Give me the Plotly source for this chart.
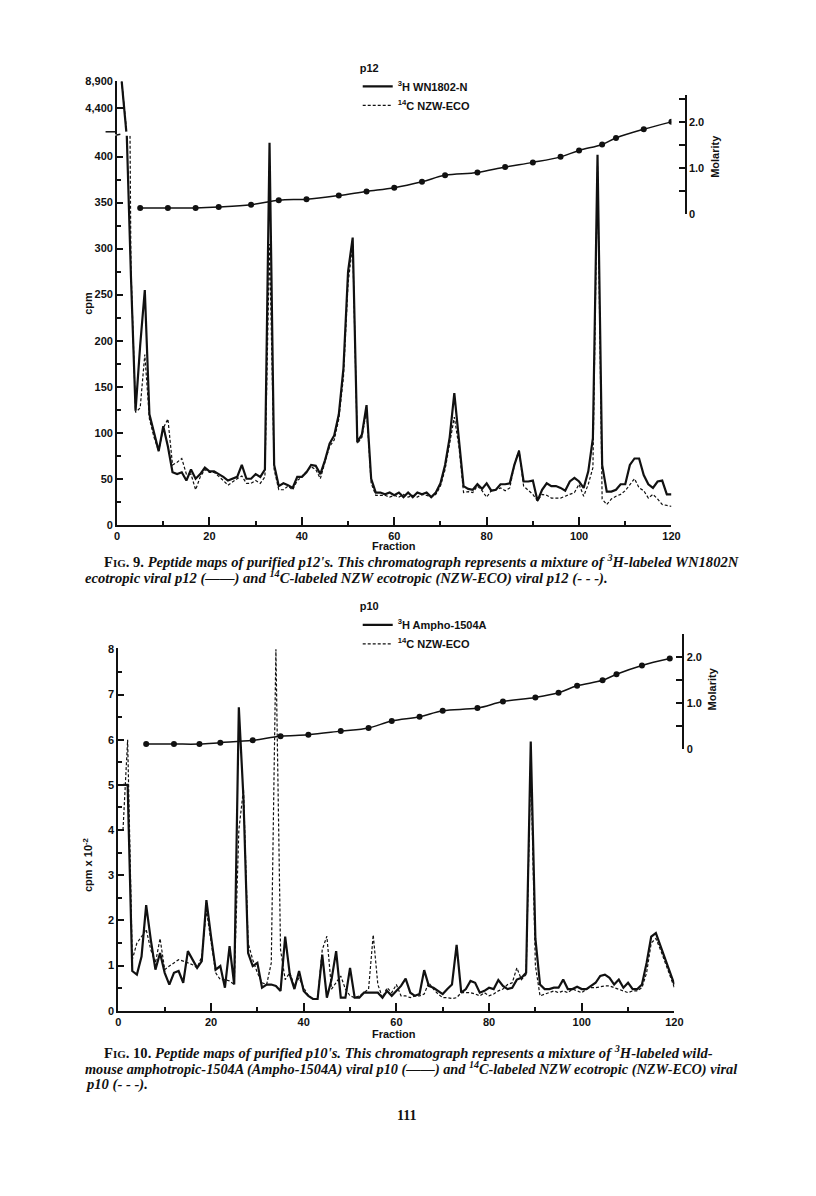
import plotly.graph_objects as go

# page is photographed at 816x1196; the html body has an 8px margin,
# so the figure is 800x1180 and page pixels are converted accordingly
W, H = 800, 1180
OFF = 8


def X(px):
    return (px - OFF) / W


def Y(py):
    return 1 - (py - OFF) / H


# ---------------- data ----------------
fractions = list(range(1, 121))

# Fig. 9  p12   (cpm)
p12_h3 = [8900, 440, 270, 124, 195, 255, 120, 100, 80, 107,
          85, 57, 55, 57, 48, 60, 50, 55, 62, 58,
          58, 55, 52, 48, 50, 52, 65, 50, 50, 55,
          52, 60, 415, 65, 42, 45, 43, 40, 52, 52,
          57, 65, 64, 55, 70, 88, 97, 120, 170, 275,
          312, 90, 98, 130, 50, 35, 35, 33, 35, 32,
          35, 30, 35, 30, 35, 33, 35, 30, 35, 45,
          65, 95, 143, 90, 42, 39, 38, 44, 39, 45,
          37, 38, 44, 44, 45, 65, 80, 47, 47, 48,
          26, 38, 45, 42, 42, 40, 37, 47, 51, 47,
          40, 58, 94, 402, 65, 36, 36, 38, 44, 44,
          65, 72, 72, 54, 44, 40, 47, 48, 33, 33]
p12_c14 = [8900, 1000, 280, 122, 127, 185, 115, 95, 80, 105,
           115, 65, 68, 72, 55, 55, 38, 52, 60, 57,
           57, 53, 48, 43, 47, 50, 53, 45, 45, 48,
           45, 52, 305, 60, 38, 38, 42, 38, 48, 52,
           58, 63, 60, 50, 68, 85, 92, 115, 160, 262,
           305, 88, 95, 125, 45, 32, 32, 32, 30, 32,
           30, 33, 30, 32, 30, 33, 32, 30, 33, 42,
           60, 88, 117, 85, 35, 36, 35, 42, 37, 30,
           37, 38, 40, 37, 40, 65, 81, 42, 38, 33,
           26, 33, 32, 29, 29, 29, 31, 33, 35, 44,
           31, 44, 62, 390, 28, 22, 28, 31, 33, 37,
           44, 50, 40, 37, 29, 33, 28, 22, 21, 20]
p12_mol_fraction = [5, 11, 17, 22, 29, 35, 41, 48, 54, 60, 66,
                    71, 78, 84, 90, 96, 100, 105, 108, 114, 120]
p12_molarity = [0.13, 0.13, 0.13, 0.15, 0.20, 0.30, 0.32, 0.40, 0.49, 0.57, 0.70,
                0.84, 0.90, 1.02, 1.12, 1.24, 1.38, 1.51, 1.65, 1.84, 2.00]

# Fig. 10  p10   (cpm x 10^-2)
p10_h3 = [5.0, 5.0, 0.88, 0.80, 1.2, 2.34, 1.57, 0.91, 1.28, 0.84,
          0.58, 0.84, 0.88, 0.62, 1.32, 1.13, 0.95, 1.1, 2.45, 1.64,
          0.91, 0.99, 0.51, 1.43, 0.58, 6.72, 4.7, 1.28, 0.99, 1.06,
          0.51, 0.58, 0.58, 0.55, 0.44, 1.64, 0.8, 0.48, 0.88, 0.44,
          0.33, 0.26, 0.26, 1.24, 0.29, 0.69, 1.32, 0.29, 0.29, 0.95,
          0.29, 0.29, 0.4, 0.4, 0.4, 0.4, 0.29, 0.44, 0.33, 0.44,
          0.55, 0.71, 0.4, 0.33, 0.37, 0.9, 0.55, 0.51, 0.44, 0.37,
          0.48, 0.58, 1.46, 0.4, 0.48, 0.66, 0.62, 0.4, 0.44, 0.51,
          0.48, 0.68, 0.55, 0.48, 0.51, 0.69, 0.73, 0.84, 5.96, 1.6,
          0.58, 0.48, 0.48, 0.51, 0.51, 0.69, 0.48, 0.48, 0.53, 0.48,
          0.48, 0.55, 0.62, 0.77, 0.8, 0.73, 0.58, 0.69, 0.51, 0.62,
          0.48, 0.48, 0.58, 1.06, 1.64, 1.72, 1.43, 1.13, 0.88, 0.58]
p10_c14 = [4.0, 6.0, 1.13, 1.5, 1.64, 1.8, 1.35, 1.06, 1.6, 0.91,
           0.99, 1.06, 1.13, 1.1, 1.06, 1.02, 0.95, 1.2, 2.23, 1.5,
           0.84, 0.69, 0.69, 0.66, 0.58, 4.0, 4.9, 1.5, 1.13, 0.84,
           0.62, 0.58, 1.06, 8.0, 1.35, 0.69, 0.84, 0.55, 0.73, 0.51,
           0.33, 0.26, 0.26, 1.35, 1.65, 0.48, 0.62, 0.77, 0.48, 0.33,
           0.29, 0.33, 0.4, 0.48, 1.68, 0.58, 0.29, 0.51, 0.4, 0.58,
           0.33, 0.33, 0.29, 0.33, 0.33, 0.37, 0.62, 0.48, 0.37, 0.29,
           0.29, 0.27, 0.29, 0.4, 0.4, 0.4, 0.37, 0.33, 0.4, 0.33,
           0.37, 0.44, 0.48, 0.58, 0.62, 0.95, 0.69, 0.8, 5.5, 1.0,
           0.33, 0.37, 0.4, 0.44, 0.4, 0.44, 0.4, 0.48, 0.44, 0.4,
           0.48, 0.51, 0.51, 0.53, 0.55, 0.55, 0.51, 0.48, 0.44, 0.4,
           0.44, 0.44, 0.51, 0.84, 1.5, 1.6, 1.35, 1.06, 0.77, 0.51]
p10_mol_fraction = [6, 12, 17.5, 22, 29, 35, 41, 48, 54, 59, 65,
                    70, 77.5, 83, 90, 95, 99, 104.5, 107.5, 113, 119]
p10_molarity = [0.11, 0.11, 0.11, 0.14, 0.19, 0.28, 0.31, 0.39, 0.46, 0.61, 0.70,
                0.83, 0.89, 1.03, 1.12, 1.22, 1.37, 1.49, 1.62, 1.81, 1.96]

x_ticks = [0, 20, 40, 60, 80, 100, 120]
p12_upper_ticks = [4400, 8900]
p12_upper_labels = ["4,400", "8,900"]
mol_ticks = [0, 1, 2]
mol_labels = ["0", "1.0", "2.0"]
N_BREAK = 2  # points of the off-scale start shown on the upper (broken) axis

# ---------------- styling ----------------
SANS = "Liberation Sans Narrow, Liberation Sans, sans-serif"
SERIF = "Liberation Serif, DejaVu Serif, serif"
BLACK = "#111111"
tickfont = dict(family=SANS, size=11, color=BLACK, weight="bold")

solid = dict(color=BLACK, width=2.2)
dashed = dict(color=BLACK, width=1.2, dash="3px,2px")

fig = go.Figure()

# Fig 9 lower
fig.add_trace(go.Scatter(x=fractions, y=p12_h3, mode="lines", line=solid,
                         name="<sup>3</sup>H WN1802-N", xaxis="x", yaxis="y", legend="legend"))
fig.add_trace(go.Scatter(x=fractions, y=p12_c14, mode="lines", line=dashed,
                         name="<sup>14</sup>C NZW-ECO", xaxis="x", yaxis="y", legend="legend"))
# Fig 9 upper (broken axis)
fig.add_trace(go.Scatter(x=fractions[:N_BREAK], y=p12_h3[:N_BREAK], mode="lines", line=solid,
                         showlegend=False, xaxis="x", yaxis="y2"))
fig.add_trace(go.Scatter(x=fractions[:N_BREAK], y=p12_c14[:N_BREAK], mode="lines", line=dashed,
                         showlegend=False, xaxis="x", yaxis="y2"))
# Fig 9 molarity
fig.add_trace(go.Scatter(x=p12_mol_fraction, y=p12_molarity, mode="lines+markers",
                         line=dict(color=BLACK, width=1.5, shape="spline", smoothing=1.0),
                         marker=dict(color=BLACK, size=6), showlegend=False,
                         xaxis="x", yaxis="y3"))

# Fig 10
fig.add_trace(go.Scatter(x=fractions, y=p10_h3, mode="lines", line=solid,
                         name="<sup>3</sup>H Ampho-1504A", xaxis="x2", yaxis="y4", legend="legend2"))
fig.add_trace(go.Scatter(x=fractions, y=p10_c14, mode="lines", line=dashed,
                         name="<sup>14</sup>C NZW-ECO", xaxis="x2", yaxis="y4", legend="legend2"))
fig.add_trace(go.Scatter(x=p10_mol_fraction, y=p10_molarity, mode="lines+markers",
                         line=dict(color=BLACK, width=1.5, shape="spline", smoothing=1.0),
                         marker=dict(color=BLACK, size=6), showlegend=False,
                         xaxis="x2", yaxis="y5"))

axis_common = dict(showline=True, linecolor=BLACK, linewidth=2, showgrid=False,
                   zeroline=False, ticks="inside", tickcolor=BLACK, tickwidth=1.5,
                   tickfont=tickfont)
minor_in = dict(ticks="inside", tickcolor=BLACK, tickwidth=1.5)
legend_font = dict(family=SANS, size=11, color=BLACK, weight="bold")

fig.update_layout(
    width=W, height=H, margin=dict(l=0, r=0, t=0, b=0), autosize=False,
    paper_bgcolor="white", plot_bgcolor="rgba(0,0,0,0)",
    xaxis=dict(domain=[X(115.7), X(678.5)], range=[0, 120], anchor="y",
               tickvals=x_ticks, ticklen=8,
               minor=dict(dtick=10, tick0=0, ticklen=4, **minor_in),
               **axis_common),
    yaxis=dict(domain=[Y(524), Y(131)], range=[0, 422.6], anchor="x",
               tick0=0, dtick=50, ticklen=6,
               minor=dict(dtick=25, tick0=0, ticklen=4, **minor_in),
               **axis_common),
    yaxis2=dict(domain=[Y(129.4), Y(76)], range=[0, 8900], anchor="x",
                tickvals=p12_upper_ticks, ticktext=p12_upper_labels, ticklen=7,
                **axis_common),
    yaxis3=dict(domain=[Y(210), Y(90)], range=[0, 2.58], anchor="free",
                position=X(693), side="right", tickvals=mol_ticks, ticktext=mol_labels,
                ticklen=6,
                minor=dict(tickvals=[0.5, 1.5, 2.5], ticklen=6, **minor_in),
                **axis_common),
    xaxis2=dict(domain=[X(117), X(681.5)], range=[0, 120], anchor="y4",
                tickvals=x_ticks, ticklen=8,
                minor=dict(dtick=10, tick0=0, ticklen=4, **minor_in),
                **axis_common),
    yaxis4=dict(domain=[Y(1015), Y(649)], range=[0, 8.02], anchor="x2",
                tick0=0, dtick=1, ticklen=6,
                minor=dict(dtick=0.5, tick0=0, ticklen=4, **minor_in),
                **axis_common),
    yaxis5=dict(domain=[Y(750.7), Y(634)], range=[0, 2.5], anchor="free",
                position=X(690.7), side="right", tickvals=mol_ticks, ticktext=mol_labels,
                ticklen=6,
                minor=dict(tickvals=[0.5, 1.5, 2.5], ticklen=6, **minor_in),
                **axis_common),
    legend=dict(x=X(360), y=Y(52), xanchor="left", yanchor="top",
                bgcolor="rgba(0,0,0,0)", itemwidth=30, tracegroupgap=0,
                title=dict(text="p12", font=legend_font), font=legend_font),
    legend2=dict(x=X(360), y=Y(596), xanchor="left", yanchor="top",
                 bgcolor="rgba(0,0,0,0)", itemwidth=30, tracegroupgap=0,
                 title=dict(text="p10", font=legend_font), font=legend_font),
)

# axis break marks on Fig 9 y axis
shapes = [
    dict(type="line", xref="paper", yref="paper", x0=X(104), y0=Y(127), x1=X(114), y1=Y(127),
         line=dict(color=BLACK, width=1.5)),
    dict(type="line", xref="paper", yref="paper", x0=X(114), y0=Y(130.5), x1=X(119), y1=Y(129.5),
         line=dict(color=BLACK, width=1.5)),
]
fig.update_layout(shapes=shapes)

lab = dict(family=SANS, size=11, color=BLACK, weight="bold")
cap = dict(family=SERIF, size=14.6, color=BLACK, weight="bold")
cap_b = dict(family=SERIF, size=14.3, color=BLACK, weight="bold")
SC = "<span style='font-size:11px'>IG</span>"


def ann(text, px, py, font, xanchor="center", angle=0):
    return dict(text=text, x=X(px), y=Y(py), xref="paper", yref="paper",
                xanchor=xanchor, yanchor="middle", showarrow=False,
                textangle=angle, font=font, borderpad=0)


annotations = [
    ann("cpm", 86, 300, lab, angle=-90),
    ann("Fraction", 397, 545, lab),
    ann("Molarity", 722, 152, lab, angle=-90),
    ann("cpm x 10<sup>-2</sup>", 86, 868, lab, angle=-90),
    ann("Fraction", 397, 1038, lab),
    ann("Molarity", 720, 690, lab, angle=-90),
    ann("F" + SC + ". 9. <i>Peptide maps of purified p12's. This chromatograph "
        "represents a mixture of <sup>3</sup>H-labeled WN1802N</i>", 101, 561, cap, xanchor="left"),
    ann("<i>ecotropic viral p12 (——) and <sup>14</sup>C-labeled NZW ecotropic (NZW-ECO) viral p12 (- - -).</i>",
        82, 577, cap, xanchor="left"),
    ann("F" + SC + ". 10. <i>Peptide maps of purified p10's. This chromatograph "
        "represents a mixture of <sup>3</sup>H-labeled wild-</i>", 101, 1057, cap, xanchor="left"),
    ann("<i>mouse amphotropic-1504A (Ampho-1504A) viral p10 (——) and <sup>14</sup>C-labeled NZW ecotropic "
        "(NZW-ECO) viral</i>", 82, 1073, cap_b, xanchor="left"),
    ann("<i>p10 (- - -).</i>", 82, 1089, cap, xanchor="left"),
    ann("111", 410, 1121, dict(family=SERIF, size=14, color=BLACK, weight="bold")),
]
fig.update_layout(annotations=annotations)

fig.write_html("out.html")
